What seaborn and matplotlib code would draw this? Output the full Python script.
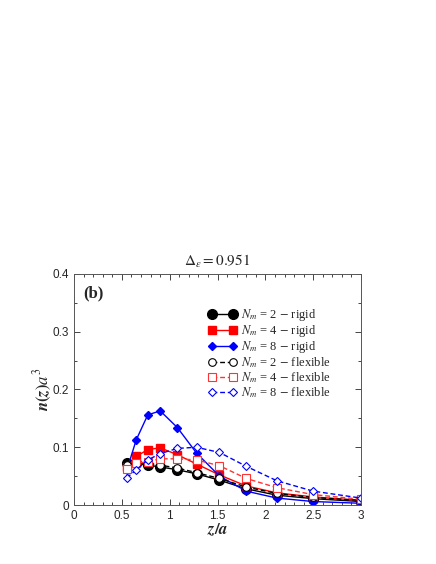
import numpy as np
import pandas as pd
import seaborn as sns
import matplotlib
matplotlib.use("Agg")
import matplotlib.pyplot as plt
from matplotlib.ticker import MultipleLocator, FuncFormatter

# values
z = [0.55, 0.65, 0.77, 0.90, 1.08, 1.28, 1.52, 1.80, 2.12, 2.50, 3.00]
rigid2 = [0.072, 0.072, 0.069, 0.066, 0.061, 0.054, 0.043, 0.028, 0.017, 0.011, 0.006]
rigid4 = [0.065, 0.084, 0.096, 0.099, 0.087, 0.071, 0.052, 0.033, 0.021, 0.014, 0.008]
rigid8 = [0.060, 0.113, 0.156, 0.163, 0.134, 0.090, 0.050, 0.024, 0.012, 0.006, 0.003]
flex2 = [0.070, 0.073, 0.072, 0.069, 0.064, 0.056, 0.046, 0.031, 0.020, 0.013, 0.008]
flex4 = [0.062, 0.072, 0.075, 0.080, 0.080, 0.078, 0.068, 0.046, 0.030, 0.018, 0.010]
flex8 = [0.047, 0.061, 0.078, 0.089, 0.098, 0.100, 0.091, 0.067, 0.042, 0.024, 0.012]

labels = [r"$N_m$ = 2 $-$ rigid", r"$N_m$ = 4 $-$ rigid", r"$N_m$ = 8 $-$ rigid",
          r"$N_m$ = 2 $-$ flexible", r"$N_m$ = 4 $-$ flexible", r"$N_m$ = 8 $-$ flexible"]

sns.set_style("ticks")
plt.rcParams["font.family"] = ["Liberation Serif", "DejaVu Serif"]
plt.rcParams["mathtext.fontset"] = "stix"

fig = plt.figure(figsize=(4.36, 5.64), dpi=100)
ax = fig.add_axes([0.170, 0.1046, 0.658, 0.4096])

# (data, colour, marker, filled, dashed, markersize)
series = [(rigid2, "black", "o", True, False, 7),
          (rigid4, "red", "s", True, False, 5.5),
          (rigid8, "blue", "D", True, False, 4.5),
          (flex2, "black", "o", False, True, 5.5),
          (flex4, "#ff3333", "s", False, True, 5.5),
          (flex8, "blue", "D", False, True, 4.5)]

for (vals, col, mk, filled, dashed, ms), lab in zip(series, labels):
    df = pd.DataFrame({"z": z, "n": vals})
    sns.lineplot(data=df, x="z", y="n", ax=ax, color=col, marker=mk,
                 linewidth=1.0, markersize=ms, label=lab,
                 markerfacecolor=col if filled else "white",
                 markeredgecolor=col, markeredgewidth=1.0 if filled else 0.8)
    if dashed:
        ax.lines[-1].set_linestyle((0, (3.5, 2)))

ax.set_xlim(0, 3)
ax.set_ylim(0, 0.4)
ax.xaxis.set_major_locator(MultipleLocator(0.5))
ax.xaxis.set_minor_locator(MultipleLocator(0.1))
ax.yaxis.set_major_locator(MultipleLocator(0.1))
ax.yaxis.set_minor_locator(MultipleLocator(0.05))
fmt = FuncFormatter(lambda v, p: f"{v:g}")
ax.xaxis.set_major_formatter(fmt)
ax.yaxis.set_major_formatter(fmt)
ax.tick_params(which="both", direction="in", top=True, right=True, width=0.6,
               labelsize=8.5, labelfontfamily="Liberation Sans")
ax.tick_params(which="major", length=4)
ax.tick_params(which="minor", length=2)
for s in ax.spines.values():
    s.set_linewidth(0.7)
    s.set_color("#555555")

ax.set_xlabel(r"$\boldsymbol{z/a}$", fontsize=12, labelpad=0)
ax.set_ylabel(r"$\boldsymbol{n(z)a^3}$", fontsize=12, labelpad=-1)
ax.set_title(r"$\Delta_\varepsilon = 0.951$", fontsize=11, pad=6)
ax.text(0.031, 0.898, "(b)", transform=ax.transAxes, fontsize=12,
        fontweight="bold", va="baseline")

leg = ax.legend(loc="upper left", bbox_to_anchor=(0.468, 0.855), frameon=False,
                fontsize=9, handlelength=2.3, numpoints=2, labelspacing=0.0,
                handletextpad=0.3, borderaxespad=0, borderpad=0)
for h in leg.legend_handles[3:]:
    h.set_linestyle((0, (3.5, 2)))

fig.savefig("out.png", dpi=100)
